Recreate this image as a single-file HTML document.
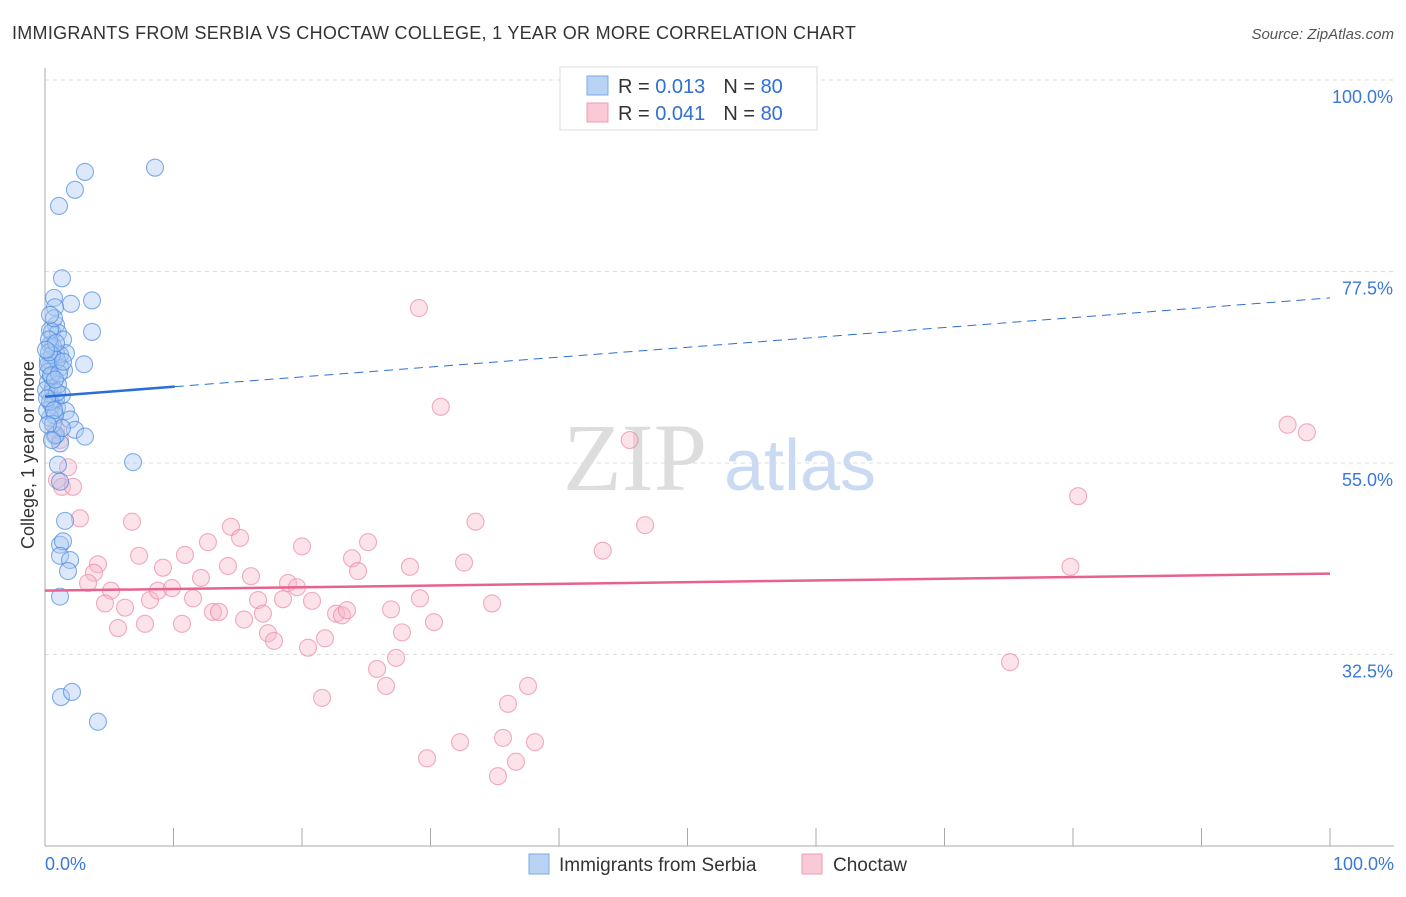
<!DOCTYPE html>
<html><head><meta charset="utf-8">
<style>
body{margin:0;background:#fff;font-family:"Liberation Sans",sans-serif;}
svg text{font-family:"Liberation Sans",sans-serif;}
</style></head>
<body>
<svg id="chart" width="1406" height="892" xmlns="http://www.w3.org/2000/svg">
<text x="12" y="39" font-size="18" fill="#333" letter-spacing="0.28">IMMIGRANTS FROM SERBIA VS CHOCTAW COLLEGE, 1 YEAR OR MORE CORRELATION CHART</text>
<text x="1394" y="39" font-size="15" fill="#555" text-anchor="end" font-style="italic">Source: ZipAtlas.com</text>
<text x="34" y="455" font-size="18" fill="#333" text-anchor="middle" transform="rotate(-90 34 455)">College, 1 year or more</text>
<g>
<text x="635" y="490" font-size="96" fill="#ddd" text-anchor="middle" font-family="Liberation Serif" style="font-family:'Liberation Serif',serif">ZIP</text>
<text x="800" y="490" font-size="72" fill="#c9daf2" text-anchor="middle">atlas</text>
</g>
<g id="grid"></g>
<g id="axes"></g>
<g id="marks"></g>
<g>
<rect x="560" y="67" width="257" height="63" fill="#fff" stroke="#ddd"/>
<rect x="587" y="76" width="21" height="19" fill="#b9d3f5" stroke="#7aa8e6"/>
<text x="618" y="93" font-size="20" fill="#333">R = <tspan fill="#2f6fd6">0.013</tspan><tspan dx="18">N = </tspan><tspan fill="#2f6fd6">80</tspan></text>
<rect x="587" y="103" width="21" height="19" fill="#f9c9d6" stroke="#ee9cb5"/>
<text x="618" y="120" font-size="20" fill="#333">R = <tspan fill="#2f6fd6">0.041</tspan><tspan dx="18">N = </tspan><tspan fill="#2f6fd6">80</tspan></text>
</g>
<g>
<rect x="529" y="854" width="20" height="20" fill="#b9d3f5" stroke="#7aa8e6"/>
<text x="559" y="871" font-size="19" fill="#333">Immigrants from Serbia</text>
<rect x="802" y="854" width="20" height="20" fill="#f9c9d6" stroke="#ee9cb5"/>
<text x="833" y="871" font-size="19" fill="#333">Choctaw</text>
</g>
</svg>
<script>
const yTicks=[100,77.5,55,32.5];
const yTickLabels=["100.0%","77.5%","55.0%","32.5%"];
const xTickLabels=["0.0%","100.0%"];
const serbiaX=[8.56,3.11,2.33,1.09,1.32,3.66,0.70,2.02,0.78,3.66,0.86,0.54,1.01,1.40,0.39,1.63,0.86,1.17,3.04,0.39,1.17,1.48,0.54,0.23,0.62,0.39,0.86,0.54,0.93,1.63,1.95,0.39,2.33,3.11,0.78,1.17,0.86,1.01,6.85,1.17,1.56,1.17,1.40,1.17,1.95,1.79,1.17,1.25,2.10,4.12,0.23,0.23,0.39,0.62,0.08,0.16,0.78,1.32,0.93,0.54,0.31,0.70,0.23,1.01,0.39,0.62,1.32,0.93,0.47,0.31,0.86,0.16,0.70,1.09,0.23,0.54,0.08,1.40,0.78,0.39];
const serbiaY=[89.7,89.2,87.1,85.2,76.7,74.1,74.4,73.7,73.3,70.4,71.2,70.4,70.3,69.5,68.9,67.9,67.9,67.7,66.6,66.3,66.2,65.9,65.1,64.5,63.8,63.1,62.4,61.8,61.5,61.1,60.1,60.3,58.9,58.1,58.2,57.3,58.3,54.8,55.1,52.8,48.2,45.4,45.8,44.1,43.6,42.3,39.3,27.5,28.1,24.6,67.1,65.7,70.6,68.7,63.6,61.2,60.6,63.0,67.1,67.7,69.5,72.0,66.5,64.2,62.2,59.6,59.1,63.3,65.3,68.0,69.1,62.6,61.2,65.5,59.5,57.7,68.3,66.9,64.8,72.4];
const choctawX=[29.1,30.8,45.5,96.7,98.2,80.4,46.7,43.4,33.5,79.8,75.1,1.79,0.93,1.32,2.18,2.72,1.17,0.86,6.77,7.32,4.12,3.81,3.35,5.14,4.67,6.23,5.68,7.78,8.17,8.79,9.18,9.88,10.89,10.66,11.52,12.14,12.68,13.07,13.54,14.24,14.47,15.18,15.49,16.03,16.58,16.96,17.35,17.82,18.52,18.91,19.61,20.0,20.47,20.78,21.56,21.79,22.65,23.11,23.50,23.89,24.36,25.14,25.84,26.54,26.93,27.32,27.78,28.40,29.18,29.73,30.27,32.30,32.61,34.79,35.25,35.64,36.03,36.65,37.59,38.13];
const choctawY=[73.2,61.6,57.7,59.5,58.6,51.1,47.7,44.7,48.1,42.8,31.6,54.5,53.0,52.2,52.2,48.5,57.7,58.9,48.1,44.1,43.1,42.1,40.9,40.0,38.5,38.0,35.6,36.1,38.9,40.0,42.7,40.3,44.2,36.1,39.1,41.5,45.7,37.5,37.5,42.9,47.5,46.2,36.6,41.7,38.9,37.3,35.0,34.1,39.0,40.9,40.4,45.2,33.3,38.8,27.4,34.4,37.3,37.1,37.7,43.8,42.3,45.7,30.8,28.8,37.8,32.1,35.1,42.8,39.1,20.3,36.3,22.2,43.3,38.5,18.2,22.7,26.7,19.9,28.8,22.2];
const serbiaTrend=[62.8,74.4];
const choctawTrend=[40.0,42.0];
const serbiaSolidEnd=10.1;

const NS="http://www.w3.org/2000/svg";
const xs=v=>45+v*12.85;
const ys=v=>80+(100-v)*8.511;
function mk(tag,attrs,parent){const e=document.createElementNS(NS,tag);for(const k in attrs)e.setAttribute(k,attrs[k]);parent.appendChild(e);return e;}
const grid=document.getElementById('grid'),axes=document.getElementById('axes'),marks=document.getElementById('marks');
yTicks.forEach((t,i)=>{
  const l=mk('line',{x1:45,x2:1394,y1:ys(t),y2:ys(t),stroke:'#ddd','stroke-dasharray':'4,4'},grid);
  
  
  const tx=mk('text',{x:1393,y:ys(t)+23,'font-size':18,fill:'#3a78d8','text-anchor':'end'},axes);
  tx.textContent=yTickLabels[i];
  
  
});
const ya=mk('line',{x1:45,x2:45,y1:68,y2:846,stroke:'#aaa'},axes);


const xa=mk('line',{x1:45,x2:1394,y1:846,y2:846,stroke:'#aaa'},axes);


for(let i=0;i<=10;i++){
  const tk=mk('line',{x1:xs(i*10),x2:xs(i*10),y1:828,y2:846,stroke:'#aaa'},axes);
  
  
}
[[0,'start',45],[100,'end',1394]].forEach((a,i)=>{
  const tx=mk('text',{x:a[2],y:870,'font-size':18,fill:'#3a78d8','text-anchor':a[1]},axes);
  tx.textContent=xTickLabels[i];
  
  
});
function pts(X,Y,fill,stroke,name){
  X.forEach((x,i)=>{
    const c=mk('circle',{cx:xs(x),cy:ys(Y[i]),r:8.5,fill:fill,'fill-opacity':0.4,stroke:stroke,'stroke-opacity':0.7,'stroke-width':1.1},marks);
    
    
  });
}
pts(choctawX,choctawY,'#f7b6c9','#e98aa8','choctaw-point');
pts(serbiaX,serbiaY,'#a9c8f2','#4d8ce0','serbia-point');
const tv=(tr,x)=>tr[0]+(tr[1]-tr[0])*x/100;
const bs=mk('line',{x1:xs(0),y1:ys(tv(serbiaTrend,0)),x2:xs(serbiaSolidEnd),y2:ys(tv(serbiaTrend,serbiaSolidEnd)),stroke:'#2a6fd8','stroke-width':2.5},marks);


const bd=mk('line',{x1:xs(serbiaSolidEnd),y1:ys(tv(serbiaTrend,serbiaSolidEnd)),x2:xs(100),y2:ys(tv(serbiaTrend,100)),stroke:'#2a6fd8','stroke-width':1,'stroke-dasharray':'9,6'},marks);


const pl=mk('line',{x1:xs(0),y1:ys(tv(choctawTrend,0)),x2:xs(100),y2:ys(tv(choctawTrend,100)),stroke:'#e8628e','stroke-width':2.5},marks);


</script>
</body></html>
